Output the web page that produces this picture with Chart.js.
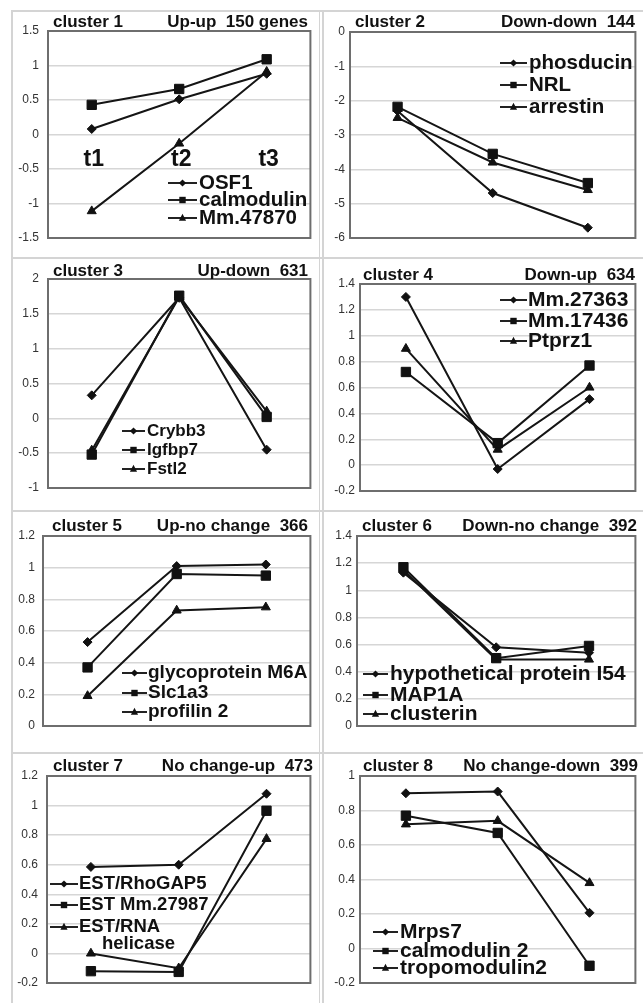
<!DOCTYPE html>
<html><head><meta charset="utf-8">
<script src="https://cdn.jsdelivr.net/npm/chart.js@4.4.0/dist/chart.umd.min.js"></script>
<style>
html,body{margin:0;padding:0;background:#fff;}
#page{position:relative;width:643px;height:1003px;overflow:hidden;background:#fff;}
.ln{position:absolute;background:#d4d4d4;}
canvas{position:absolute;}
</style></head><body><div id="page"></div>
<script>
// ---------- DATA ----------
const categories = ['t1', 't2', 't3'];
const clusterLabels = ['cluster 1','cluster 2','cluster 3','cluster 4','cluster 5','cluster 6','cluster 7','cluster 8'];
const clusterPatterns = ['Up-up  150 genes','Down-down  144','Up-down  631','Down-up  634','Up-no change  366','Down-no change  392','No change-up  473','No change-down  399'];

const c1Genes = ['OSF1', 'calmodulin', 'Mm.47870'];
const c1OSF1 = [0.08, 0.51, 0.88];
const c1Calmodulin = [0.43, 0.66, 1.09];
const c1Mm47870 = [-1.11, -0.13, 0.91];
const c1Axis = [-1.5, 1.5, 0.5];

const c2Genes = ['phosducin', 'NRL', 'arrestin'];
const c2Phosducin = [-2.3, -4.69, -5.7];
const c2NRL = [-2.18, -3.55, -4.4];
const c2Arrestin = [-2.5, -3.8, -4.6];
const c2Axis = [-6, 0, 1];

const c3Genes = ['Crybb3', 'Igfbp7', 'Fstl2'];
const c3Crybb3 = [0.33, 1.73, -0.45];
const c3Igfbp7 = [-0.52, 1.76, 0.02];
const c3Fstl2 = [-0.46, 1.74, 0.1];
const c3Axis = [-1, 2, 0.5];

const c4Genes = ['Mm.27363', 'Mm.17436', 'Ptprz1'];
const c4Mm27363 = [1.3, -0.03, 0.51];
const c4Mm17436 = [0.72, 0.17, 0.77];
const c4Ptprz1 = [0.9, 0.12, 0.6];
const c4Axis = [-0.2, 1.4, 0.2];

const c5Genes = ['glycoprotein M6A', 'Slc1a3', 'profilin 2'];
const c5M6A = [0.53, 1.01, 1.02];
const c5Slc1a3 = [0.37, 0.96, 0.95];
const c5Profilin2 = [0.19, 0.73, 0.75];
const c5Axis = [0, 1.2, 0.2];

const c6Genes = ['hypothetical protein I54', 'MAP1A', 'clusterin'];
const c6I54 = [1.13, 0.58, 0.54];
const c6MAP1A = [1.17, 0.5, 0.59];
const c6Clusterin = [1.15, 0.49, 0.49];
const c6Axis = [0, 1.4, 0.2];

const c7Genes = ['EST/RhoGAP5', 'EST Mm.27987', 'EST/RNA helicase'];
const c7RhoGAP5 = [0.585, 0.6, 1.08];
const c7Mm27987 = [-0.12, -0.125, 0.965];
const c7Helicase = [0.0, -0.1, 0.775];
const c7Axis = [-0.2, 1.2, 0.2];

const c8Genes = ['Mrps7', 'calmodulin 2', 'tropomodulin2'];
const c8Mrps7 = [0.9, 0.91, 0.207];
const c8Calmodulin2 = [0.77, 0.67, -0.1];
const c8Tropomodulin2 = [0.72, 0.74, 0.38];
const c8Axis = [-0.2, 1, 0.2];

// ---------- LAYOUT / STYLE ----------
const FONT = "'Liberation Sans', Arial, sans-serif";
const STYLES = ['rectRot', 'rect', 'triangle'];
const RADII = [4.5, 6.6, 5.2];

const panels = [
  {genes:c1Genes, series:[c1OSF1,c1Calmodulin,c1Mm47870], axis:c1Axis,
   cell:[13,12,305,244], box:[48,31,315,238], tpad:9, tx:53, ty:27, rx:308,
   leg:{x1:168,x2:197,tx:199,ys:[183,200,218],fs:20.5}, tlabels:{y:160,fs:23}},
  {genes:c2Genes, series:[c2Phosducin,c2NRL,c2Arrestin], axis:c2Axis,
   cell:[324,12,319,244], box:[350,32,640,238], tpad:5, tx:355, ty:27, rx:635,
   leg:{x1:500,x2:527,tx:529,ys:[63,85,107],fs:20.5}},
  {genes:c3Genes, series:[c3Crybb3,c3Igfbp7,c3Fstl2], axis:c3Axis,
   cell:[13,260,305,249], box:[48,279,313,488], tpad:9, tx:53, ty:276, rx:308,
   leg:{x1:122,x2:145,tx:147,ys:[431,450,469],fs:17}},
  {genes:c4Genes, series:[c4Mm27363,c4Mm17436,c4Ptprz1], axis:c4Axis,
   cell:[324,260,319,249], box:[360,284,640,491], tpad:5, tx:363, ty:280, rx:635,
   leg:{x1:500,x2:527,tx:528,ys:[300,321,341],fs:21}},
  {genes:c5Genes, series:[c5M6A,c5Slc1a3,c5Profilin2], axis:c5Axis,
   cell:[13,513,305,238], box:[43,536,312,726], tpad:8, tx:52, ty:531, rx:308,
   leg:{x1:122,x2:147,tx:148,ys:[673,693,712],fs:19}},
  {genes:c6Genes, series:[c6I54,c6MAP1A,c6Clusterin], axis:c6Axis,
   cell:[324,513,319,238], box:[357,536,641,726], tpad:5, tx:362, ty:531, rx:637,
   leg:{x1:363,x2:388,tx:390,ys:[674,695,714],fs:21}},
  {genes:c7Genes, series:[c7RhoGAP5,c7Mm27987,c7Helicase], axis:c7Axis,
   cell:[13,755,305,248], box:[47,776,313,983], tpad:9, tx:53, ty:771, rx:313,
   leg:{x1:50,x2:78,tx:79,ys:[884,905,927],fs:18.5, wrap:{i:2,x:102,y:944}}},
  {genes:c8Genes, series:[c8Mrps7,c8Calmodulin2,c8Tropomodulin2], axis:c8Axis,
   cell:[324,755,319,248], box:[360,776,640,983], tpad:5, tx:363, ty:771, rx:638,
   leg:{x1:373,x2:398,tx:400,ys:[932,951,968],fs:21}}
];

const page = document.getElementById('page');
// frame lines
[[11,10,2,1000],[319,10,1,1000],[322,10,2,1000],[11,10,640,2],[11,257,640,2],[11,510,640,2],[11,752,640,2]]
  .forEach(r => { const d = document.createElement('div'); d.className='ln';
    d.style.left=r[0]+'px'; d.style.top=r[1]+'px'; d.style.width=r[2]+'px'; d.style.height=r[3]+'px'; page.appendChild(d); });

function drawMark(ctx, style, x, y, r) {
  ctx.beginPath();
  if (style === 'rectRot') { ctx.moveTo(x, y - r); ctx.lineTo(x + r, y); ctx.lineTo(x, y + r); ctx.lineTo(x - r, y); }
  else if (style === 'rect') { ctx.rect(x - r, y - r, 2 * r, 2 * r); }
  else { ctx.moveTo(x, y - r * 1.15); ctx.lineTo(x + r, y + r * 0.75); ctx.lineTo(x - r, y + r * 0.75); }
  ctx.closePath(); ctx.fill();
}

const decor = {
  id: 'decor',
  beforeDatasetsDraw(chart) {
    const ca = chart.chartArea, ctx = chart.ctx;
    ctx.save(); ctx.strokeStyle = '#6e6e6e'; ctx.lineWidth = 2;
    ctx.strokeRect(ca.left, ca.top, ca.right - ca.left, ca.bottom - ca.top);
    ctx.restore();
  },
  afterDraw(chart, args, o) {
    const p = o.panel, ctx = chart.ctx, ox = p.cell[0], oy = p.cell[1];
    ctx.save();
    ctx.fillStyle = '#111';
    ctx.font = 'bold 17px ' + FONT;
    ctx.textBaseline = 'alphabetic';
    ctx.textAlign = 'left';
    ctx.fillText(o.title, p.tx - ox, p.ty - oy);
    ctx.textAlign = 'right';
    ctx.fillText(o.pattern, p.rx - ox, p.ty - oy);
    // legend
    const L = p.leg;
    ctx.font = 'bold ' + L.fs + 'px ' + FONT;
    ctx.textAlign = 'left'; ctx.textBaseline = 'middle';
    p.genes.forEach((g, i) => {
      const y = L.ys[i] - oy;
      ctx.strokeStyle = '#222'; ctx.lineWidth = 2;
      ctx.beginPath(); ctx.moveTo(L.x1 - ox, y); ctx.lineTo(L.x2 - ox, y); ctx.stroke();
      ctx.fillStyle = '#111';
      drawMark(ctx, STYLES[i], (L.x1 + L.x2) / 2 - ox, y, i === 1 ? 3.2 : 3.6);
      let txt = g;
      if (L.wrap && L.wrap.i === i) {
        const k = g.lastIndexOf(' ');
        txt = g.slice(0, k);
        ctx.fillText(g.slice(k + 1), L.wrap.x - ox, L.wrap.y - oy);
      }
      ctx.fillText(txt, L.tx - ox, y);
    });
    if (p.tlabels) {
      ctx.font = 'bold ' + p.tlabels.fs + 'px ' + FONT;
      ctx.textAlign = 'center';
      const xs = chart.scales.x;
      categories.forEach((c, i) => ctx.fillText(c, xs.getPixelForValue(i) + 2, p.tlabels.y - oy));
    }
    ctx.restore();
  }
};

panels.forEach((p, idx) => {
  const [cx, cy, cw, ch] = p.cell;
  const [L, T, R, B] = p.box;
  const cv = document.createElement('canvas');
  cv.width = cw; cv.height = ch;
  cv.style.left = cx + 'px'; cv.style.top = cy + 'px';
  cv.style.width = cw + 'px'; cv.style.height = ch + 'px';
  page.appendChild(cv);
  new Chart(cv, {
    type: 'line',
    data: {
      labels: categories,
      datasets: p.series.map((s, i) => ({
        label: p.genes[i], data: s,
        borderColor: '#151515', borderWidth: 2, tension: 0,
        pointStyle: STYLES[i], pointRadius: RADII[i],
        pointBackgroundColor: '#111', pointBorderColor: '#111', pointBorderWidth: 1
      }))
    },
    options: {
      responsive: false, animation: false, devicePixelRatio: 1,
      layout: { padding: { left: 0, top: T - cy, right: cx + cw - R, bottom: cy + ch - B } },
      plugins: { legend: { display: false }, tooltip: { enabled: false },
        decor: { panel: p, title: clusterLabels[idx], pattern: clusterPatterns[idx] } },
      scales: {
        x: { display: false, offset: true },
        y: {
          min: p.axis[0], max: p.axis[1],
          ticks: { stepSize: p.axis[2], padding: p.tpad, color: '#333',
            font: { family: FONT, size: 12 },
            callback: v => String(Math.round(v * 10) / 10) },
          grid: { color: '#d6d6d6', lineWidth: 1.5, drawTicks: false },
          border: { display: false },
          afterFit: s => { s.width = L - cx; }
        }
      }
    },
    plugins: [decor]
  });
});
</script></body></html>
